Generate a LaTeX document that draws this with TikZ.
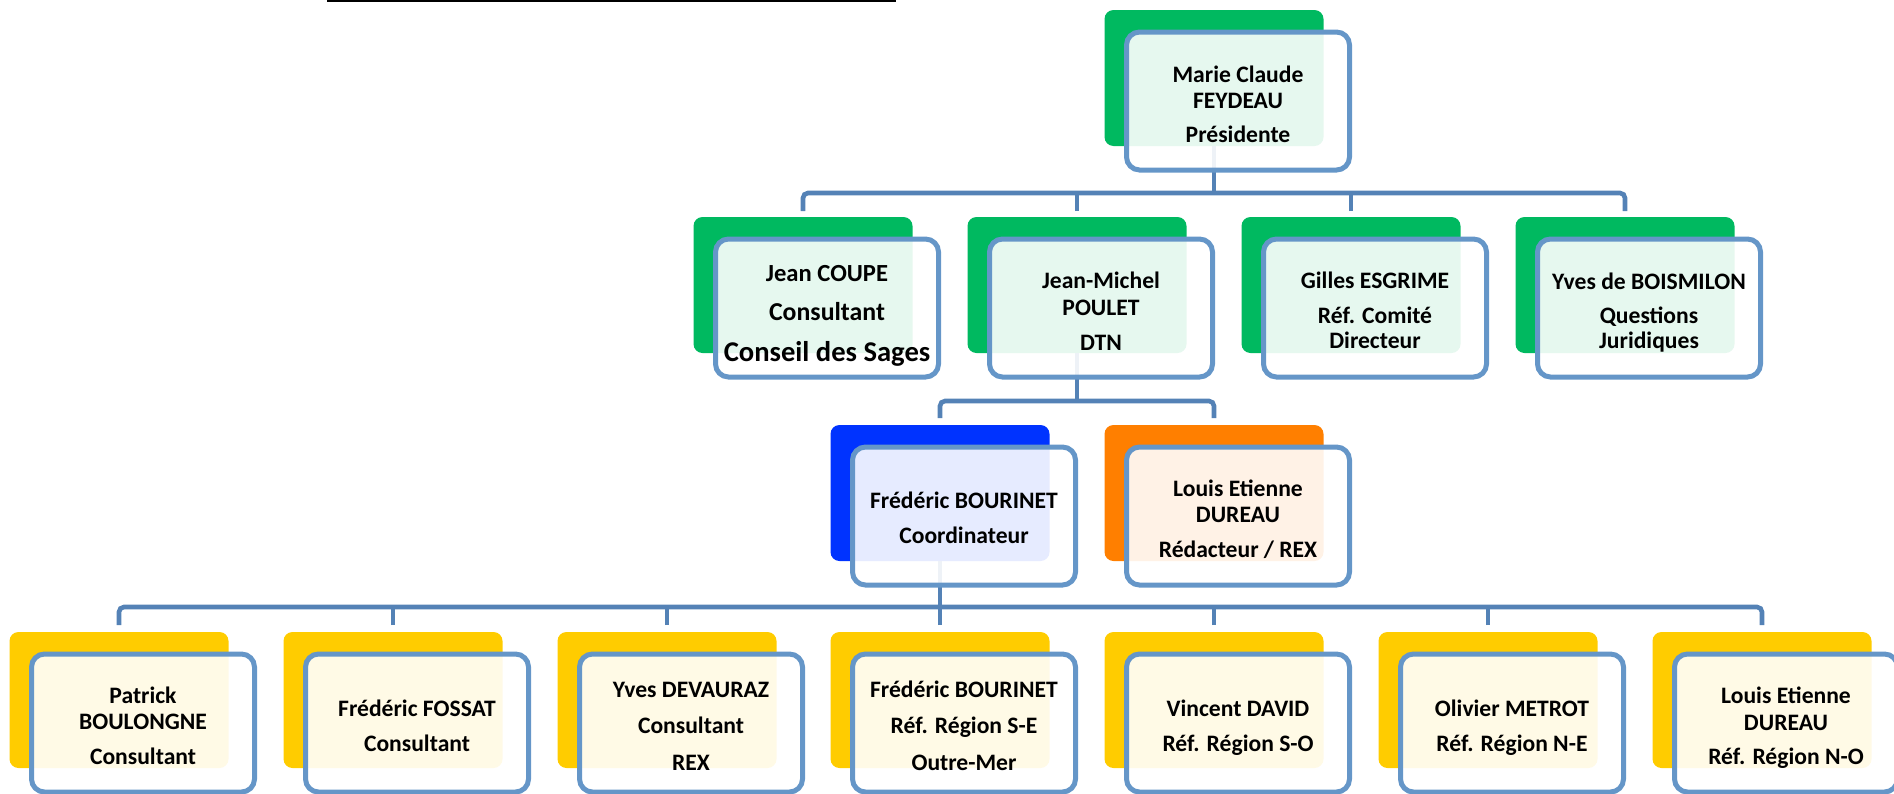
\documentclass[tikz,border=0pt]{standalone}
\usepackage{fontspec}
\setmainfont{Carlito}
\definecolor{cgreen}{HTML}{00B960}
\definecolor{cblue}{HTML}{0033FF}
\definecolor{corange}{HTML}{FF7F00}
\definecolor{cyellow}{HTML}{FFCC00}
\definecolor{cardline}{HTML}{6596C8}
\definecolor{connline}{HTML}{5482B6}
\begin{document}
\begin{tikzpicture}[x=1pt,y=-1pt,
  bg/.style={rounded corners=9pt, minimum width=219pt, minimum height=136pt, inner sep=0pt, outer sep=0pt},
  card/.style={rounded corners=13pt, draw=cardline, line width=5pt, fill=white, fill opacity=0.9, minimum width=223pt, minimum height=138pt, inner sep=0pt},
  lbl/.style={font=\fontsize{23.6}{26}\selectfont\bfseries, align=center, anchor=base, inner sep=0pt, text=black},
  conn/.style={draw=connline, line width=4.6pt},
  bar/.style={conn, rounded corners=5pt}]
\useasboundingbox (0,0) rectangle (1894,793);

% top rule
\coordinate (ruleL) at (327,0.75);
\coordinate (ruleR) at (896,0.75);
\draw[line width=1.5pt, black] (ruleL) -- (ruleR);

% coloured back boxes
\node[bg, fill=cgreen] (presB) at (1214,78) {};
\node[bg, fill=cgreen] (coupeB) at (803,285) {};
\node[bg, fill=cgreen] (pouletB) at (1077,285) {};
\node[bg, fill=cgreen] (esgB) at (1351,285) {};
\node[bg, fill=cgreen] (boisB) at (1625,285) {};
\node[bg, fill=cblue] (bourB) at (940,493) {};
\node[bg, fill=corange] (durB) at (1214,493) {};
\node[bg, fill=cyellow] (patB) at (119,700) {};
\node[bg, fill=cyellow] (fosB) at (393,700) {};
\node[bg, fill=cyellow] (devB) at (667,700) {};
\node[bg, fill=cyellow] (bour2B) at (940,700) {};
\node[bg, fill=cyellow] (davB) at (1214,700) {};
\node[bg, fill=cyellow] (metB) at (1488,700) {};
\node[bg, fill=cyellow] (dur2B) at (1762,700) {};

% connectors
\coordinate (j1) at (1214,193);
\draw[conn] (presB.south) -- (j1);
\draw[bar] ([yshift=6pt]coupeB.north) |- (j1) -| ([yshift=6pt]boisB.north);
\draw[conn] ([yshift=6pt]pouletB.north) -- (pouletB.north |- j1);
\draw[conn] ([yshift=6pt]esgB.north) -- (esgB.north |- j1);

\coordinate (j2) at (1077,401);
\draw[conn] (pouletB.south) -- (j2);
\draw[bar] ([yshift=7pt]bourB.north) |- (j2) -| ([yshift=7pt]durB.north);

\coordinate (j3) at (940,607);
\draw[conn] (bourB.south) -- (j3);
\draw[bar] ([yshift=7pt]patB.north) |- (j3) -| ([yshift=7pt]dur2B.north);
\draw[conn] ([yshift=7pt]fosB.north) -- (fosB.north |- j3);
\draw[conn] ([yshift=7pt]devB.north) -- (devB.north |- j3);
\draw[conn] ([yshift=7pt]bour2B.north) -- (bour2B.north |- j3);
\draw[conn] ([yshift=7pt]davB.north) -- (davB.north |- j3);
\draw[conn] ([yshift=7pt]metB.north) -- (metB.north |- j3);

% outlined cards
\node[card] (presC) at (1238,101) {};
\node[card] (coupeC) at (827,308) {};
\node[card] (pouletC) at (1101,308) {};
\node[card] (esgC) at (1375,308) {};
\node[card] (boisC) at (1649,308) {};
\node[card] (bourC) at (964,516) {};
\node[card] (durC) at (1238,516) {};
\node[card] (patC) at (143,723) {};
\node[card] (fosC) at (417,723) {};
\node[card] (devC) at (691,723) {};
\node[card] (bour2C) at (964,723) {};
\node[card] (davC) at (1238,723) {};
\node[card] (metC) at (1512,723) {};
\node[card] (dur2C) at (1786,723) {};

% texts (anchor = baseline of the last line)
\node[lbl] (presT) at (1238,142) {Marie Claude\\FEYDEAU\\[8pt]Présidente};
\node[lbl] (coupeT) at (827,361) {{\fontsize{24.6}{26}\selectfont Jean COUPE}\\[13pt]{\fontsize{25.8}{26}\selectfont Consultant}\\[15pt]{\fontsize{28.6}{26}\selectfont Conseil des Sages}};
\node[lbl] (pouletT) at (1101,350) {Jean-Michel\\[1pt]POULET\\[9pt]DTN};
\node[lbl] (esgT) at (1375,348) {Gilles ESGRIME\\[9pt]Réf. Comité\\[-1pt]Directeur};
\node[lbl] (boisT) at (1649,348) {Yves de BOISMILON\\[8pt]Questions\\[-1pt]Juridiques};
\node[lbl] (bourT) at (964,543) {Frédéric BOURINET\\[9pt]Coordinateur};
\node[lbl] (durT) at (1238,557) {Louis Etienne\\DUREAU\\[9pt]Rédacteur / REX};
\node[lbl] (patT) at (143,764) {Patrick\\BOULONGNE\\[9pt]Consultant};
\node[lbl] (fosT) at (417,751) {Frédéric FOSSAT\\[9pt]Consultant};
\node[lbl] (devT) at (691,770) {Yves DEVAURAZ\\[10pt]Consultant\\[11pt]REX};
\node[lbl] (bour2T) at (964,770) {Frédéric BOURINET\\[10pt]Réf. Région S-E\\[11pt]Outre-Mer};
\node[lbl] (davT) at (1238,751) {Vincent DAVID\\[9pt]Réf. Région S-O};
\node[lbl] (metT) at (1512,751) {Olivier METROT\\[9pt]Réf. Région N-E};
\node[lbl] (dur2T) at (1786,764) {Louis Etienne\\[1pt]DUREAU\\[8pt]Réf. Région N-O};
\end{tikzpicture}
\end{document}
